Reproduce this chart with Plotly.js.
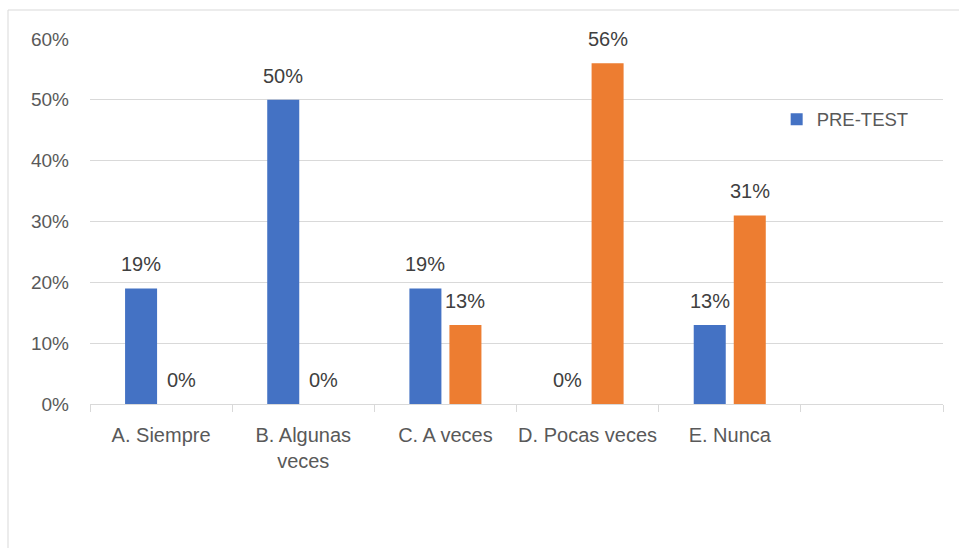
<!DOCTYPE html>
<html>
<head>
<meta charset="utf-8">
<script src="https://cdn.plot.ly/plotly-3.0.1.min.js"></script>
<style>
  html, body { margin: 0; padding: 0; background: #ffffff; }
  #chart { width: 959px; height: 548px; }
</style>
</head>
<body>
<div id="chart"></div>
<script>
const categories = ["A. Siempre", "B. Algunas<br>veces", "C. A veces", "D. Pocas veces", "E. Nunca", " "];
const preTest = [0.19, 0.50, 0.19, 0.00, 0.13, null];
const postTest = [0.00, 0.00, 0.13, 0.56, 0.31, null];
const seriesNames = ["PRE-TEST", "POST-TEST"];
const yTickVals = [0, 0.1, 0.2, 0.3, 0.4, 0.5, 0.6];
const yTickText = ["0%", "10%", "20%", "30%", "40%", "50%", "60%"];

function pctLabel(v) {
  return Math.round(v * 100) + "%";
}

const fontFam = "Liberation Sans, Arial, sans-serif";
const labelFont = { family: fontFam, size: 20, color: "#404040" };

const traces = [
  {
    type: "bar",
    name: seriesNames[0],
    x: categories,
    y: preTest,
    marker: { color: "#4472C4" },
    showlegend: true,
    hoverinfo: "skip"
  },
  {
    type: "bar",
    name: seriesNames[1],
    x: categories,
    y: postTest,
    marker: { color: "#ED7D31" },
    showlegend: false,
    hoverinfo: "skip"
  }
];

// data labels, placed at each bar's value through the axes
const annotations = [];
[preTest, postTest].forEach((series, si) => {
  series.forEach((v, i) => {
    if (v === null) return;
    annotations.push({
      x: categories[i],
      y: v,
      xref: "x",
      yref: "y",
      text: pctLabel(v),
      showarrow: false,
      xanchor: "center",
      yanchor: "middle",
      xshift: si === 0 ? -20 : 20,
      yshift: 24,
      font: labelFont
    });
  });
});

const layout = {
  width: 959,
  height: 548,
  margin: { l: 90, r: 16, t: 39, b: 144 },
  paper_bgcolor: "#ffffff",
  plot_bgcolor: "#ffffff",
  font: { family: fontFam, size: 19, color: "#595959" },
  barmode: "group",
  bargap: 0.437,
  bargroupgap: 0.2,
  showlegend: true,
  legend: {
    x: 0.805, y: 0.779, xanchor: "left", yanchor: "middle",
    font: { family: fontFam, size: 18.5, color: "#595959" },
    bgcolor: "rgba(0,0,0,0)",
    itemwidth: 30
  },
  xaxis: {
    type: "category",
    tickson: "boundaries",
    ticks: "outside",
    ticklen: 7,
    tickcolor: "#d9d9d9",
    tickwidth: 1,
    showline: true,
    linecolor: "#d9d9d9",
    linewidth: 1,
    showgrid: false,
    tickangle: 0,
    ticklabelstandoff: 13,
    tickfont: { family: fontFam, size: 20, color: "#595959" },
    fixedrange: true
  },
  yaxis: {
    range: [0, 0.6],
    tickvals: yTickVals,
    ticktext: yTickText,
    showgrid: true,
    gridcolor: "#d9d9d9",
    gridwidth: 1,
    zeroline: false,
    showline: false,
    ticks: "",
    ticklabelstandoff: 20,
    tickfont: { family: fontFam, size: 19, color: "#595959" },
    fixedrange: true
  },
  annotations: annotations,
  shapes: [
    {
      type: "rect", xref: "paper", yref: "paper",
      x0: (8 - 90) / 853, x1: (970 - 90) / 853,
      y0: (404 - 560) / 365, y1: 1 + 29 / 365,
      line: { color: "#d9d9d9", width: 1 },
      fillcolor: "rgba(0,0,0,0)",
      layer: "below"
    }
  ]
};

Plotly.newPlot("chart", traces, layout, { displayModeBar: false, staticPlot: true });
</script>
</body>
</html>
